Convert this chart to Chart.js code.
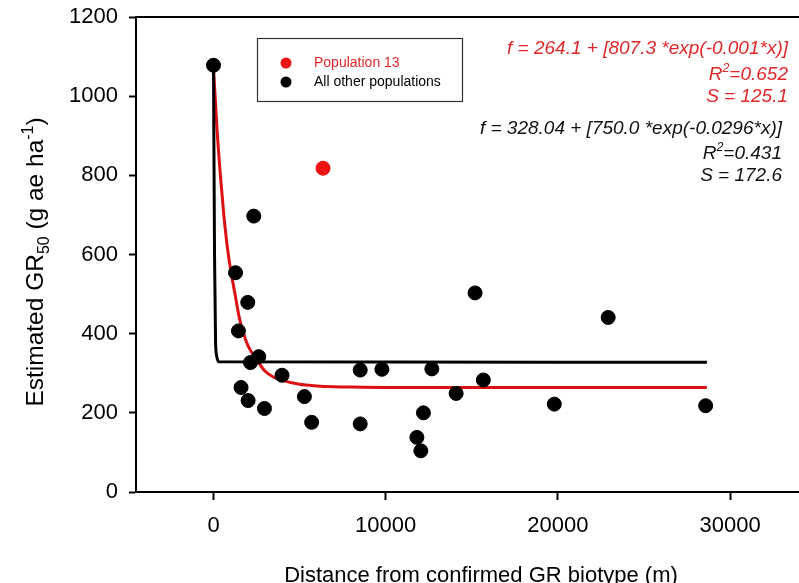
<!DOCTYPE html>
<html>
<head>
<meta charset="utf-8">
<script src="https://cdn.jsdelivr.net/npm/chart.js@4/dist/chart.umd.min.js"></script>
<style>
  html, body { margin: 0; padding: 0; background: #fff; overflow: hidden; }
  #chart { display: block; }
</style>
</head>
<body>
<canvas id="chart" width="799" height="583"></canvas>
<script>
// values
const otherX = [0, 2340, 1280, 1990, 1450, 2630, 2150, 3980, 1600, 5280, 2010, 2960, 5700,
                8520, 9780, 8520, 12680, 15190, 15670, 14090, 12190, 11810, 12040, 22920, 19790, 28580];
const otherY = [1078, 697, 554, 479, 407, 342, 327, 295, 264, 241, 231, 211, 176,
                308, 310, 172, 311, 503, 283, 249, 200, 138, 104, 441, 222, 218];
const pop13X = [6360];
const pop13Y = [818];

// fitted curves
const redFitX = [0, 200, 400, 600, 800, 1000, 1250, 1500, 1750, 2000, 2500, 3000, 3500, 4000, 5000, 6000, 7000, 8000, 10000, 15000, 20000, 28650];
const redFitY = [1072, 920, 800, 700, 620, 560, 500, 440, 400, 370, 335, 305, 290, 282, 272, 268, 266, 265, 264, 264, 264, 264];
const blackFitX = [0, 60, 120, 180, 300, 28650];
const blackFitY = [1078, 600, 380, 345, 329, 328];

const xTickValues = [0, 10000, 20000, 30000];
const yTickValues = [0, 200, 400, 600, 800, 1000, 1200];

const FONT = '"Liberation Sans", Arial, sans-serif';
const RED = '#ee1111';
const RED_LINE = '#dd1111';
const RED_TEXT = '#e0282a';

function toPoints(xs, ys) {
    return xs.map((x, i) => ({ x: x, y: ys[i] }));
}

// draw text made of parts, some of them sub/superscript
function richWidth(ctx, parts, size, style) {
    let w = 0;
    parts.forEach(p => {
        const s = p.sub || p.sup ? size * 0.65 : size;
        ctx.font = style + ' ' + s + 'px ' + FONT;
        w += ctx.measureText(p.t).width;
    });
    return w;
}
function drawRich(ctx, parts, x, y, size, style, align) {
    let cx = x;
    if (align === 'right') cx = x - richWidth(ctx, parts, size, style);
    if (align === 'center') cx = x - richWidth(ctx, parts, size, style) / 2;
    ctx.textAlign = 'left';
    ctx.textBaseline = 'alphabetic';
    parts.forEach(p => {
        const s = p.sub || p.sup ? size * 0.65 : size;
        ctx.font = style + ' ' + s + 'px ' + FONT;
        let dy = 0;
        if (p.sub) dy = size * 0.25;
        if (p.sup) dy = -size * 0.42;
        ctx.fillText(p.t, cx, y + dy);
        cx += ctx.measureText(p.t).width;
    });
}

const decorations = {
    id: 'decorations',
    afterDraw(chart) {
        const ctx = chart.ctx;
        const area = chart.chartArea;
        ctx.save();

        // top frame line
        ctx.strokeStyle = '#000';
        ctx.lineWidth = 2;
        ctx.beginPath();
        ctx.moveTo(area.left - 1, area.top);
        ctx.lineTo(area.right, area.top);
        ctx.stroke();

        // axis titles
        ctx.fillStyle = '#000';
        ctx.font = '22px ' + FONT;
        ctx.textAlign = 'center';
        ctx.textBaseline = 'middle';
        ctx.fillText('Distance from confirmed GR biotype (m)', 481, 576);

        ctx.save();
        ctx.translate(43, 262);
        ctx.rotate(-Math.PI / 2);
        drawRich(ctx, [
            { t: 'Estimated GR' }, { t: '50', sub: true },
            { t: ' (g ae ha' }, { t: '-1', sup: true }, { t: ')' }
        ], 0, 0, 24.5, 'normal', 'center');
        ctx.restore();

        // legend box
        ctx.strokeStyle = '#333';
        ctx.lineWidth = 1.2;
        ctx.strokeRect(257.5, 38.5, 205, 63);
        ctx.fillStyle = RED;
        ctx.beginPath(); ctx.arc(286, 63, 5.5, 0, Math.PI * 2); ctx.fill();
        ctx.fillStyle = '#000';
        ctx.beginPath(); ctx.arc(286, 82, 5.5, 0, Math.PI * 2); ctx.fill();
        ctx.font = '14px ' + FONT;
        ctx.textAlign = 'left';
        ctx.textBaseline = 'middle';
        ctx.fillStyle = RED_TEXT;
        ctx.fillText('Population 13', 314, 63);
        ctx.fillStyle = '#000';
        ctx.fillText('All other populations', 314, 82);

        // fit equations
        ctx.fillStyle = RED_TEXT;
        drawRich(ctx, [{ t: 'f = 264.1 + [807.3 *exp(-0.001*x)]' }], 788, 54, 19, 'italic', 'right');
        drawRich(ctx, [{ t: 'R' }, { t: '2', sup: true }, { t: '=0.652' }], 788, 80, 19, 'italic', 'right');
        drawRich(ctx, [{ t: 'S = 125.1' }], 788, 102, 19, 'italic', 'right');
        ctx.fillStyle = '#111';
        drawRich(ctx, [{ t: 'f = 328.04 + [750.0 *exp(-0.0296*x)]' }], 782, 134, 19, 'italic', 'right');
        drawRich(ctx, [{ t: 'R' }, { t: '2', sup: true }, { t: '=0.431' }], 782, 159, 19, 'italic', 'right');
        drawRich(ctx, [{ t: 'S = 172.6' }], 782, 181, 19, 'italic', 'right');

        ctx.restore();
    }
};

new Chart(document.getElementById('chart'), {
    type: 'scatter',
    data: {
        datasets: [
            {
                label: 'Population 13',
                data: toPoints(pop13X, pop13Y),
                backgroundColor: RED,
                borderColor: RED,
                pointRadius: 7,
                pointHoverRadius: 7,
                order: 0
            },
            {
                label: 'All other populations',
                data: toPoints(otherX, otherY),
                backgroundColor: '#000',
                borderColor: '#000',
                pointRadius: 7,
                pointHoverRadius: 7,
                order: 0
            },
            {
                type: 'line',
                label: 'Population 13 fit',
                data: toPoints(redFitX, redFitY),
                borderColor: RED_LINE,
                borderWidth: 3,
                pointRadius: 0,
                fill: false,
                cubicInterpolationMode: 'monotone',
                order: 2
            },
            {
                type: 'line',
                label: 'All other populations fit',
                data: toPoints(blackFitX, blackFitY),
                borderColor: '#000',
                borderWidth: 3,
                pointRadius: 0,
                fill: false,
                cubicInterpolationMode: 'monotone',
                order: 1
            }
        ]
    },
    options: {
        responsive: false,
        animation: false,
        layout: { autoPadding: false, padding: { left: 0, top: 17, right: 0, bottom: 0 } },
        plugins: {
            legend: { display: false },
            tooltip: { enabled: false }
        },
        scales: {
            x: {
                type: 'linear',
                min: -4500,
                max: 34000,
                afterFit: scale => {
                    scale.height = 91;
                    scale.paddingLeft = 0;
                    scale.paddingRight = 0;
                },
                afterBuildTicks: scale => { scale.ticks = xTickValues.map(v => ({ value: v })); },
                border: { display: true, color: '#000', width: 2 },
                grid: { drawOnChartArea: false, drawTicks: true, tickLength: 8, tickWidth: 2, tickColor: '#000' },
                ticks: {
                    color: '#000',
                    font: { family: FONT, size: 22 },
                    padding: 13,
                    maxRotation: 0,
                    callback: v => String(v)
                }
            },
            y: {
                type: 'linear',
                min: 0,
                max: 1200,
                afterFit: scale => {
                    scale.width = 136;
                    scale.paddingTop = 0;
                    scale.paddingBottom = 0;
                },
                afterBuildTicks: scale => { scale.ticks = yTickValues.map(v => ({ value: v })); },
                border: { display: true, color: '#000', width: 2 },
                grid: { drawOnChartArea: false, drawTicks: true, tickLength: 7, tickWidth: 2, tickColor: '#000' },
                ticks: {
                    color: '#000',
                    font: { family: FONT, size: 22 },
                    padding: 11,
                    callback: v => String(v)
                }
            }
        }
    },
    plugins: [decorations]
});
</script>
</body>
</html>
